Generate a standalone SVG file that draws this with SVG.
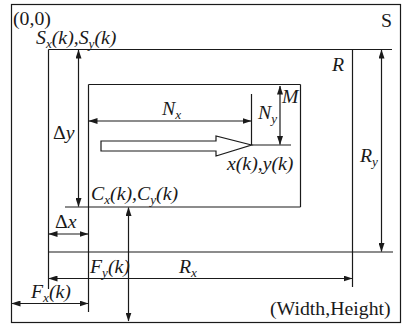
<svg xmlns="http://www.w3.org/2000/svg" width="405" height="325" viewBox="0 0 405 325">
<style>
.ln{stroke:#1a1a1a;stroke-width:1.2;fill:none}
.dim{stroke:#1a1a1a;stroke-width:1.2;fill:none;marker-start:url(#ah);marker-end:url(#ah)}
.t{font-family:"Liberation Serif","Times New Roman",serif;font-size:18px;fill:#1a1a1a}
.i{font-style:italic}
.s{font-size:12px}
</style>
<defs>
<marker id="ah" markerUnits="userSpaceOnUse" markerWidth="9" markerHeight="6" refX="8.5" refY="3" orient="auto-start-reverse">
<path d="M0,0 L9,3 L0,6 Z" fill="#1a1a1a"/>
</marker>
</defs>
<rect width="405" height="325" fill="#fff"/>
<g id="frame-S">
<rect class="ln" x="11.5" y="4.5" width="389" height="318"/>
<text class="t" transform="translate(381,27) scale(1.1,1)">S</text>
<text class="t" transform="translate(13,24.5) scale(1.1,1)">(0,0)</text>
<text class="t" transform="translate(270,315) scale(1.1,1)">(Width,Height)</text>
</g>
<g id="rect-R">
<line class="ln" x1="48.5" y1="49.5" x2="392" y2="49.5"/>
<line class="ln" x1="48.5" y1="252" x2="393" y2="252"/>
<line class="ln" x1="48.5" y1="49.5" x2="48.5" y2="289"/>
<line class="ln" x1="352.5" y1="49.5" x2="352.5" y2="287"/>
<text class="t i" transform="translate(332,71) scale(1.1,1)">R</text>
<text class="t i" transform="translate(36,44) scale(1.1,1)">S<tspan class="s" dy="4">x</tspan><tspan dy="-4">(k),S</tspan><tspan class="s" dy="4">y</tspan><tspan dy="-4">(k)</tspan></text>
</g>
<g id="rect-C">
<line class="ln" x1="88.5" y1="84.5" x2="300.5" y2="84.5"/>
<line class="ln" x1="300.5" y1="84.5" x2="300.5" y2="207"/>
<line class="ln" x1="65" y1="207" x2="300.5" y2="207"/>
<line class="ln" x1="88.5" y1="84.5" x2="88.5" y2="312"/>
<text class="t i" transform="translate(91,200) scale(1.1,1)">C<tspan class="s" dy="4">x</tspan><tspan dy="-4">(k),C</tspan><tspan class="s" dy="4">y</tspan><tspan dy="-4">(k)</tspan></text>
</g>
<g id="object-arrow">
<polygon class="ln" points="101,141 216,141 216,136 251.5,145 216,156 216,151 101,151"/>
<line class="ln" x1="251.5" y1="94" x2="251.5" y2="145"/>
<line class="ln" x1="251.5" y1="145" x2="291" y2="145"/>
<text class="t i" transform="translate(227,170) scale(1.1,1)">x(k),y(k)</text>
</g>
<g id="connectors">
<line class="dim" x1="78.5" y1="50" x2="78.5" y2="206.5"/>
<line class="dim" x1="49" y1="234" x2="88" y2="234"/>
<line class="dim" x1="89" y1="121" x2="251" y2="121"/>
<line class="dim" x1="280" y1="86" x2="280" y2="144.5"/>
<line class="dim" x1="381.5" y1="50" x2="381.5" y2="251.5"/>
<line class="dim" x1="49" y1="278.5" x2="352" y2="278.5"/>
<line class="dim" x1="12" y1="303.5" x2="88" y2="303.5"/>
<line class="dim" x1="128.5" y1="207.5" x2="128.5" y2="321"/>
</g>
<g id="labels">
<text class="t i" transform="translate(162,115) scale(1.1,1)">N<tspan class="s" dy="4">x</tspan></text>
<text class="t i" transform="translate(258,119) scale(1.1,1)">N<tspan class="s" dy="4">y</tspan></text>
<text class="t i" transform="translate(282,103) scale(1.1,1)">M</text>
<text class="t" transform="translate(53,139) scale(1.1,1)">Δ<tspan class="i">y</tspan></text>
<text class="t" transform="translate(55,228) scale(1.1,1)">Δ<tspan class="i">x</tspan></text>
<text class="t i" transform="translate(90,273) scale(1.1,1)">F<tspan class="s" dy="4">y</tspan><tspan dy="-4">(k)</tspan></text>
<text class="t i" transform="translate(179,273) scale(1.1,1)">R<tspan class="s" dy="4">x</tspan></text>
<text class="t i" transform="translate(31,298) scale(1.1,1)">F<tspan class="s" dy="4">x</tspan><tspan dy="-4">(k)</tspan></text>
<text class="t i" transform="translate(360,162) scale(1.1,1)">R<tspan class="s" dy="4">y</tspan></text>
</g>
</svg>
